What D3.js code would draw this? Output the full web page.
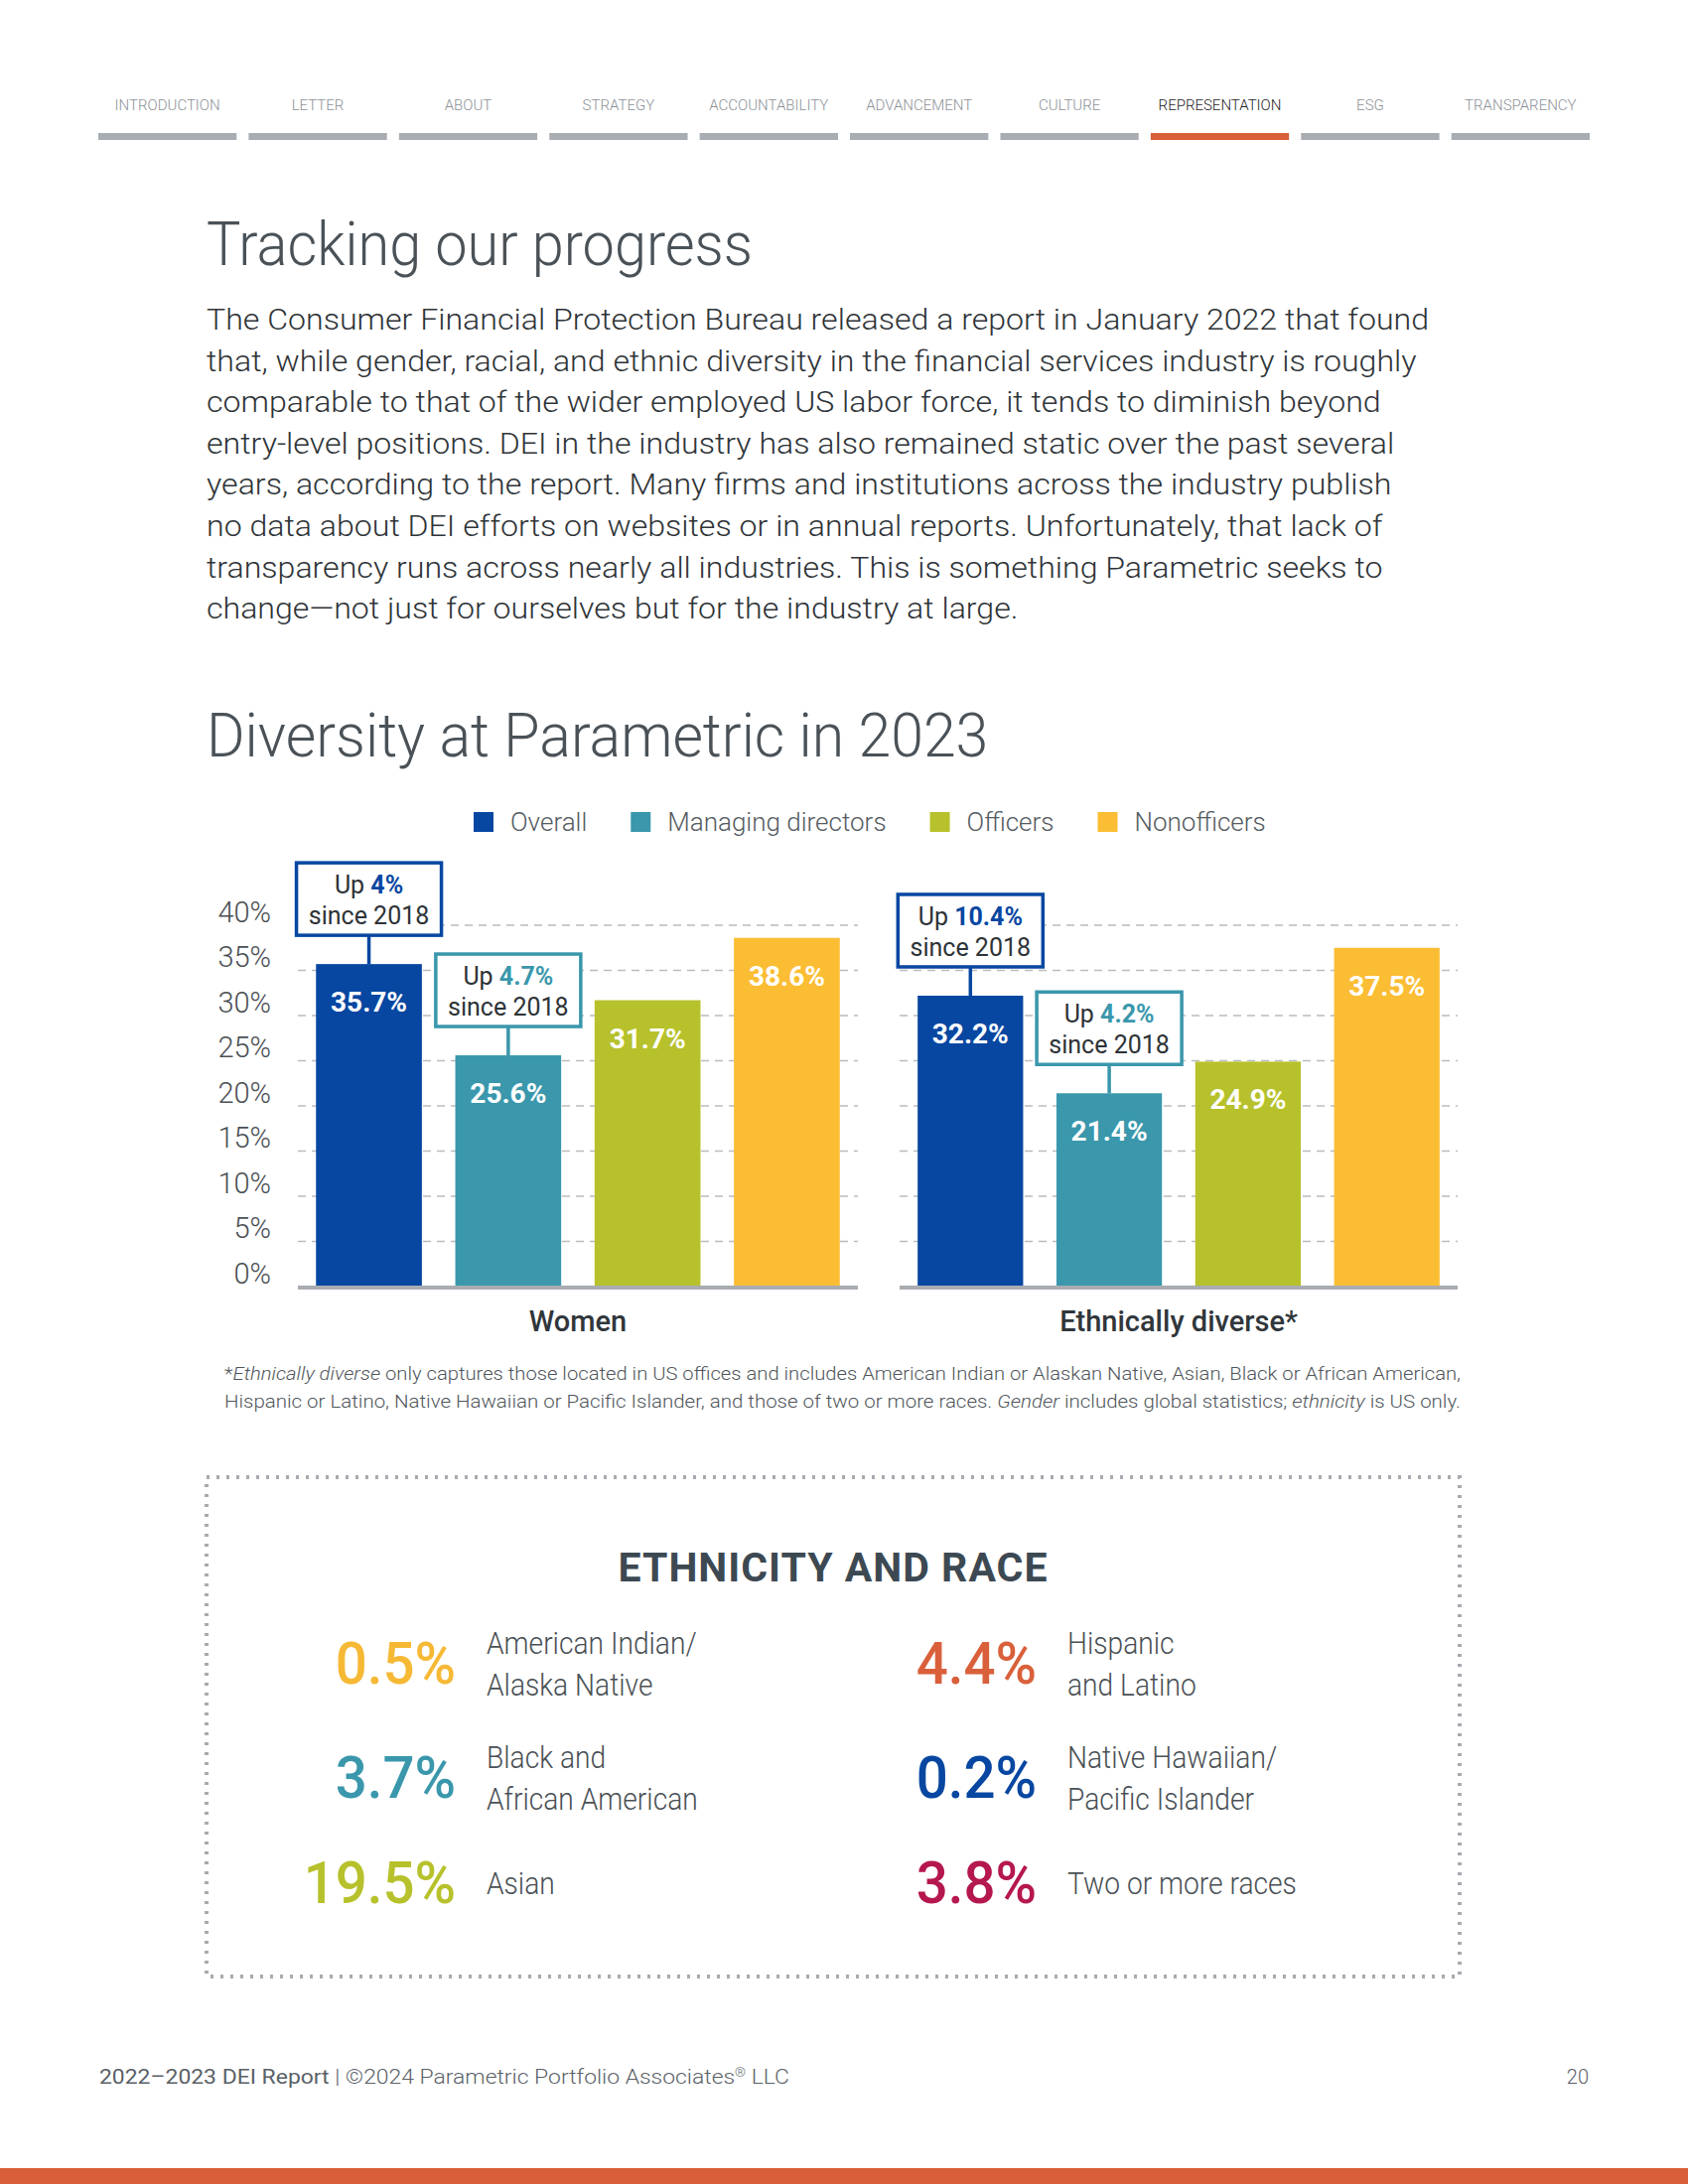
<!DOCTYPE html>
<html>
<head>
<meta charset="utf-8">
<script src="https://cdn.jsdelivr.net/npm/d3@7"></script>
<style>
  body {margin: 0; background: #fff;}
  text {font-family: Roboto, "Noto Sans", sans-serif;}
</style>
</head>
<body>
<script>
// ---- data ----
var navItems = ["INTRODUCTION", "LETTER", "ABOUT", "STRATEGY", "ACCOUNTABILITY",
                "ADVANCEMENT", "CULTURE", "REPRESENTATION", "ESG", "TRANSPARENCY"];
var activeNav = "REPRESENTATION";

var introLines = [
    "The Consumer Financial Protection Bureau released a report in January 2022 that found",
    "that, while gender, racial, and ethnic diversity in the financial services industry is roughly",
    "comparable to that of the wider employed US labor force, it tends to diminish beyond",
    "entry-level positions. DEI in the industry has also remained static over the past several",
    "years, according to the report. Many firms and institutions across the industry publish",
    "no data about DEI efforts on websites or in annual reports. Unfortunately, that lack of",
    "transparency runs across nearly all industries. This is something Parametric seeks to",
    "change\u2014not just for ourselves but for the industry at large."
];

var seriesNames = ["Overall", "Managing directors", "Officers", "Nonofficers"];
var seriesColors = ["#0747a1", "#3a97ac", "#b7c12b", "#fbbd33"];
var groupNames = ["Women", "Ethnically diverse*"];
var womenValues = [35.7, 25.6, 31.7, 38.6];
var ethnicValues = [32.2, 21.4, 24.9, 37.5];
var yTicks = [0, 5, 10, 15, 20, 25, 30, 35, 40];

var changeGroups = ["Women", "Women", "Ethnically diverse*", "Ethnically diverse*"];
var changeSeries = ["Overall", "Managing directors", "Overall", "Managing directors"];
var changeValues = [4, 4.7, 10.4, 4.2];
var changeSince = "since 2018";

var footnoteLines = [
    [["*", false], ["Ethnically diverse", true], [" only captures those located in US offices and includes American Indian or Alaskan Native, Asian, Black or African American,", false]],
    [["Hispanic or Latino, Native Hawaiian or Pacific Islander, and those of two or more races. ", false], ["Gender", true], [" includes global statistics; ", false], ["ethnicity", true], [" is US only.", false]]
];

var raceLabels = [["American Indian/", "Alaska Native"], ["Black and", "African American"], ["Asian"],
                  ["Hispanic", "and Latino"], ["Native Hawaiian/", "Pacific Islander"], ["Two or more races"]];
var raceValues = [0.5, 3.7, 19.5, 4.4, 0.2, 3.8];
var raceColors = ["#f6b935", "#3a97ac", "#b7c12b", "#d9603b", "#0747a1", "#b5174f"];

// ---- page ----
var svg = d3.select("body").append("svg")
    .attr("width", 1700)
    .attr("height", 2200);

function condense(sel, k)
{
    sel.each(function() {
        var w = this.getComputedTextLength();
        d3.select(this).attr("textLength", w * k).attr("lengthAdjust", "spacingAndGlyphs");
    });
}

// nav
var navX = d3.scaleBand().domain(navItems).range([99, 1601]).paddingInner(0.08);
var nav = svg.append("g");
nav.selectAll("rect").data(navItems).enter().append("rect")
    .attr("x", d => navX(d))
    .attr("y", 134)
    .attr("width", navX.bandwidth())
    .attr("height", 7)
    .attr("fill", d => d == activeNav ? "#d95f3b" : "#a8adb3");
nav.selectAll("text").data(navItems).enter().append("text")
    .attr("x", d => navX(d) + navX.bandwidth() / 2)
    .attr("y", 111)
    .attr("text-anchor", "middle")
    .style("font-size", "15px")
    .style("font-weight", 300)
    .attr("fill", d => d == activeNav ? "#1e2226" : "#8d9297")
    .text(d => d);

// titles
svg.append("text").attr("x", 208).attr("y", 267)
    .style("font-size", "62px").style("font-weight", 300).attr("fill", "#4a5258")
    .text("Tracking our progress").call(condense, 0.93);

var para = svg.append("g").selectAll("text").data(introLines).enter().append("text")
    .attr("x", 208)
    .attr("y", (d, i) => 332 + i * 41.6)
    .style("font-size", "29px")
    .style("font-weight", 300)
    .attr("fill", "#2f3438")
    .text(d => d);
var k = 1231 / para.node().getComputedTextLength();
para.call(condense, k);

svg.append("text").attr("x", 208).attr("y", 762)
    .style("font-size", "62px").style("font-weight", 300).attr("fill", "#4a5258")
    .text("Diversity at Parametric in 2023").call(condense, 0.95);

// legend
var legend = svg.append("g");
var lx = 477;
seriesNames.forEach(function(s, i) {
    legend.append("rect").attr("x", lx).attr("y", 818).attr("width", 20).attr("height", 20)
        .attr("fill", seriesColors[i]);
    var t = legend.append("text").attr("x", lx + 37).attr("y", 837)
        .style("font-size", "26px").style("font-weight", 300).attr("fill", "#545b61")
        .text(s);
    lx += 37 + t.node().getComputedTextLength() + 44;
});

// chart
var y = d3.scaleLinear().domain([0, 40]).range([1296, 932]);
var panelRanges = [[300, 864], [906, 1468]];
var groupValues = [womenValues, ethnicValues];

var yAxis = svg.append("g")
    .attr("transform", "translate(273,0)")
    .call(d3.axisLeft(y).tickValues(yTicks).tickFormat(d => d + "%").tickSize(0).tickPadding(0));
yAxis.select(".domain").remove();
yAxis.selectAll("text")
    .attr("dy", "-4px")
    .style("font-family", "Roboto, sans-serif")
    .style("font-size", "29px")
    .style("font-weight", 300)
    .attr("fill", "#4a4f54");

var xScales = [];
groupNames.forEach(function(g, gi) {
    var r = panelRanges[gi];
    var x = d3.scaleBand().domain(seriesNames).range(r).paddingInner(0.24).paddingOuter(0.13);
    xScales.push(x);
    var panel = svg.append("g");

    panel.selectAll(".grid").data(yTicks.filter(t => t > 0)).enter().append("line")
        .attr("x1", r[0]).attr("x2", r[1])
        .attr("y1", d => y(d)).attr("y2", d => y(d))
        .attr("stroke", "#b9bcbf").attr("stroke-width", 1.5).attr("stroke-dasharray", "8 6");

    panel.selectAll(".bar").data(groupValues[gi]).enter().append("rect")
        .attr("x", (d, i) => x(seriesNames[i]))
        .attr("y", d => y(d))
        .attr("width", x.bandwidth())
        .attr("height", d => y(0) - y(d))
        .attr("fill", (d, i) => seriesColors[i]);

    panel.append("line")
        .attr("x1", r[0]).attr("x2", r[1]).attr("y1", y(0) + 1).attr("y2", y(0) + 1)
        .attr("stroke", "#a9adb1").attr("stroke-width", 4);

    panel.selectAll(".val").data(groupValues[gi]).enter().append("text")
        .attr("x", (d, i) => x(seriesNames[i]) + x.bandwidth() / 2)
        .attr("y", d => y(d) + 48)
        .attr("text-anchor", "middle")
        .style("font-size", "28px").style("font-weight", 700)
        .attr("fill", "#fff")
        .text(d => d3.format(".1f")(d) + "%");

    panel.append("text")
        .attr("x", (r[0] + r[1]) / 2).attr("y", 1341)
        .attr("text-anchor", "middle")
        .style("font-size", "29px").style("font-weight", 500)
        .attr("fill", "#30363b")
        .text(g);
});

// callouts
changeValues.forEach(function(c, i) {
    var gi = groupNames.indexOf(changeGroups[i]);
    var si = seriesNames.indexOf(changeSeries[i]);
    var x = xScales[gi];
    var cx = x(changeSeries[i]) + x.bandwidth() / 2;
    var top = y(groupValues[gi][si]);
    var boxTop = top - 29 - 73;
    var col = seriesColors[si];
    var g = svg.append("g");
    g.append("line").attr("x1", cx).attr("x2", cx).attr("y1", top - 29).attr("y2", top)
        .attr("stroke", col).attr("stroke-width", 3.5);
    g.append("rect").attr("x", cx - 73).attr("y", boxTop).attr("width", 146).attr("height", 73)
        .attr("fill", "#fff").attr("stroke", col).attr("stroke-width", 3.5);
    var t1 = g.append("text").attr("x", cx).attr("y", boxTop + 31).attr("text-anchor", "middle")
        .style("font-size", "25px").attr("fill", "#2e3337");
    t1.append("tspan").text("Up ");
    t1.append("tspan").style("font-weight", 700).attr("fill", col).text(c + "%");
    g.append("text").attr("x", cx).attr("y", boxTop + 62).attr("text-anchor", "middle")
        .style("font-size", "25px").attr("fill", "#2e3337")
        .text(changeSince);
});

// footnote
footnoteLines.forEach(function(line, i) {
    var t = svg.append("text").attr("x", 226).attr("y", 1390 + i * 28)
        .style("font-size", "19px").style("font-weight", 300).attr("fill", "#4f555a")
        .attr("textLength", 1245).attr("lengthAdjust", "spacingAndGlyphs");
    line.forEach(function(seg) {
        t.append("tspan").style("font-style", seg[1] ? "italic" : "normal").text(seg[0]);
    });
});

// ethnicity and race box
svg.append("rect").attr("x", 208).attr("y", 1488).attr("width", 1262).attr("height", 503)
    .attr("fill", "none").attr("stroke", "#a7abb0").attr("stroke-width", 4)
    .attr("stroke-dasharray", "3 7");

svg.append("text").attr("x", 839).attr("y", 1593).attr("text-anchor", "middle")
    .style("font-size", "41px").style("font-weight", 700).style("letter-spacing", "1px")
    .attr("fill", "#3d4952")
    .text("ETHNICITY AND RACE");

var rowBase = [1696, 1811, 1917];
var colRight = [459, 1044];
raceValues.forEach(function(v, i) {
    var col = Math.floor(i / 3), row = i % 3;
    var base = rowBase[row];
    svg.append("text").attr("x", colRight[col]).attr("y", base).attr("text-anchor", "end")
        .style("font-size", "60px").style("font-weight", 500)
        .attr("fill", raceColors[i])
        .text(v + "%").call(condense, 0.94);
    var lines = raceLabels[i];
    lines.forEach(function(l, j) {
        var ly = lines.length == 1 ? base - 9 : base - 30 + j * 42;
        svg.append("text").attr("x", colRight[col] + 31).attr("y", ly)
            .style("font-size", "32px").style("font-weight", 300)
            .attr("fill", "#4a5055")
            .text(l).call(condense, 0.88);
    });
});

// footer
var ft = svg.append("text").attr("x", 100).attr("y", 2099)
    .style("font-size", "20px").attr("fill", "#5a6167")
    .attr("textLength", 695).attr("lengthAdjust", "spacingAndGlyphs");
ft.append("tspan").style("font-weight", 400).text("2022\u20132023 DEI Report");
ft.append("tspan").style("font-weight", 300).text("  |  \u00a92024 Parametric Portfolio Associates");
ft.append("tspan").style("font-weight", 300).attr("dy", -7).style("font-size", "12px").text("\u00ae");
ft.append("tspan").style("font-weight", 300).attr("dy", 7).text(" LLC");
svg.append("text").attr("x", 1600).attr("y", 2099).attr("text-anchor", "end")
    .style("font-size", "20px").style("font-weight", 300).attr("fill", "#5a6167").text("20");

svg.append("rect").attr("x", 0).attr("y", 2184).attr("width", 1700).attr("height", 16)
    .attr("fill", "#d95f3b");
</script>
</body>
</html>
